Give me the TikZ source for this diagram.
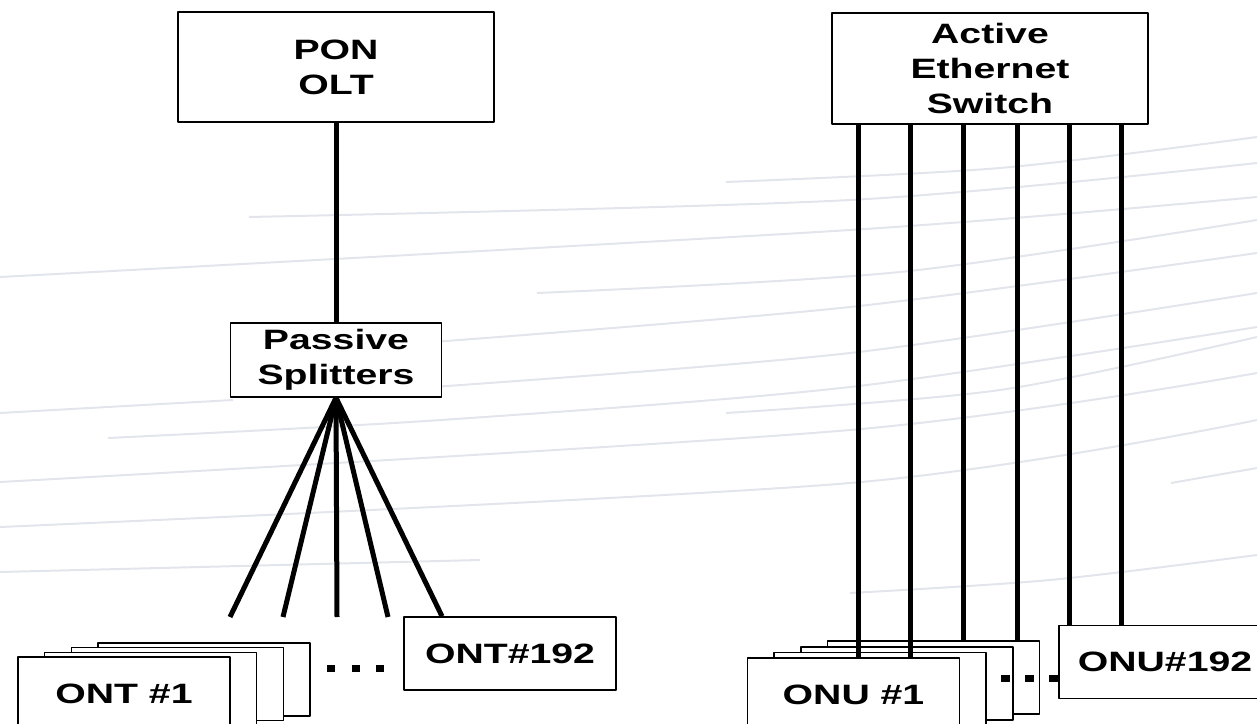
\documentclass[tikz,border=0pt]{standalone}
\usepackage{fontspec}
\setmainfont{Liberation Sans}[FakeStretch=1.4]
\definecolor{swooshgray}{RGB}{226,229,235}
\begin{document}
\begin{tikzpicture}[x=0.75pt, y=-0.75pt, line join=round,
	box/.style={draw, line width=1.1pt, fill=white, align=center, inner sep=0pt, font=\fontsize{21}{26.25}\selectfont\bfseries},
	unit/.style={box, minimum width=159pt, minimum height=54.75pt},
	link/.style={line width=3.75pt},
	dots/.style={line width=5.25pt},
	swoosh/.style={line width=1.5pt, color=swooshgray}]
				\useasboundingbox (0,0) rectangle (1257,724);
				\draw[swoosh] plot[smooth] coordinates {(726,182) (1000,168) (1257,137)};
				\draw[swoosh] plot[smooth] coordinates {(249,217) (850,200) (1257,163)};
				\draw[swoosh] plot[smooth] coordinates {(0,277) (850,230) (1257,197)};
				\draw[swoosh] plot[smooth] coordinates {(537,293) (900,272) (1257,220)};
				\draw[swoosh] plot[smooth] coordinates {(433,342) (850,307) (1257,253)};
				\draw[swoosh] plot[smooth] coordinates {(433,387) (850,353) (1257,293)};
				\draw[swoosh] plot[smooth] coordinates {(0,413) (233,400)};
				\draw[swoosh] plot[smooth] coordinates {(726,413) (1000,390) (1257,337)};
				\draw[swoosh] plot[smooth] coordinates {(108,438) (441,420) (850,387) (1257,327)};
				\draw[swoosh] plot[smooth] coordinates {(0,482) (850,430) (1257,373)};
				\draw[swoosh] plot[smooth] coordinates {(0,527) (850,483) (1257,420)};
				\draw[swoosh] plot[smooth] coordinates {(1171,483) (1257,468)};
				\draw[swoosh] plot[smooth] coordinates {(0,572) (480,560)};
				\draw[swoosh] plot[smooth] coordinates {(850,593) (1050,580) (1257,555)};
				\node[box, minimum width=237pt, minimum height=82.5pt] (olt) at (336,67) {PON\\OLT};
				\node[box, minimum width=158.25pt, minimum height=55.5pt] (split) at (336,360) {Passive\\Splitters};
				\node[box, minimum width=237pt, minimum height=83.25pt] (sw) at (990,68.5) {Active\\Ethernet\\Switch};
				\foreach\k in {3,2,1}{\node[unit, xshift=\k*20pt, yshift=\k*3.5pt] (ontstack\k) at (124,693.5) {};}
				\node[unit] (ont1) at (124,693.5) {ONT \#1};
				\node[unit] (ont192) at (510,653.5) {ONT\#192};
				\foreach\k in {3,2,1}{\node[unit, xshift=\k*20pt, yshift=\k*4.2pt] (onustack\k) at (853.5,694.5) {};}
				\node[unit] (onu1) at (853.5,694.5) {ONU \#1};
				\node[unit] (onu192) at (1165,662) {ONU\#192};
				\path (230,617) coordinate (f1)
				(283,617) coordinate (f2)
				(337,617) coordinate (f3)
				(388,617) coordinate (f4)
				(327,668) coordinate (d1)
				(384,668) coordinate (d2)
				(1001,678) coordinate (e1)
				;
				\draw[link] (olt)--(split);
				\foreach\p in {f1,f2,f3,f4}{\draw[link] (split.south)--(\p);}
				\draw[link] (split.south)--(442,0 |- ont192.north);
				\foreach\x/\t in {858/onu1,910/onu1,963/onustack3,1017/onustack3,1069/onu192,1121/onu192}{\draw[link] (\x,0 |- sw.south)--(\x,0 |- \t.north);}
				\draw[dots, dash pattern=on 6pt off 12.4pt] (d1)--(d2);
				\draw[dots, dash pattern=on 6.75pt off 11.25pt] (e1)--(e1 -| onu192.west);
			\end{tikzpicture}
\end{document}
